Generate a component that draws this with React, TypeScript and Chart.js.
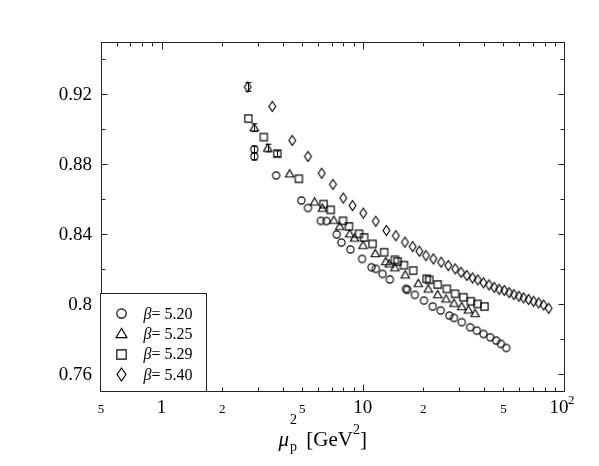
import React, { useEffect, useRef } from "react";
import { Chart, registerables } from "chart.js";
Chart.register(...registerables);

// beta = 5.20 (circles)
const x520 = [2.89, 2.89, 3.71, 4.95, 5.34, 6.19, 6.59, 7.42, 7.83, 8.68, 9.92, 11.05, 11.61, 12.54, 13.63, 16.39, 16.63, 18.16, 20.14, 22.26, 24.4, 26.93, 28.42, 31.05, 34.16, 36.89, 39.79, 42.97, 46.03, 48.58, 51.63];
const y520 = [0.8884, 0.8844, 0.8735, 0.8592, 0.8549, 0.8475, 0.8474, 0.8397, 0.8351, 0.8311, 0.8257, 0.8209, 0.82, 0.8171, 0.8139, 0.8085, 0.808, 0.8051, 0.8018, 0.7984, 0.7961, 0.7932, 0.7919, 0.7894, 0.7865, 0.7846, 0.7827, 0.7808, 0.7789, 0.777, 0.7747];
const e520 = [0.002, 0.002];
// beta = 5.25 (triangles)
const x525 = [2.89, 3.37, 4.33, 5.76, 6.3, 7.18, 7.68, 8.61, 9.09, 10.03, 11.54, 13.02, 13.53, 14.44, 16.25, 18.87, 21.16, 23.57, 25.93, 28.42, 31.05, 33.5, 36.16];
const y525 = [0.9009, 0.8892, 0.8745, 0.8584, 0.8548, 0.8479, 0.8444, 0.8401, 0.8377, 0.8335, 0.8288, 0.8242, 0.8229, 0.8207, 0.8166, 0.8117, 0.8085, 0.8053, 0.8028, 0.8003, 0.7984, 0.7965, 0.7945];
const e525 = [0.0022, 0.0022];
// beta = 5.29 (squares)
const x529 = [2.7, 3.22, 3.76, 4.81, 6.38, 6.93, 7.97, 8.54, 9.58, 10.15, 11.18, 12.77, 14.44, 14.89, 16.01, 17.81, 20.77, 21.4, 23.57, 26.14, 28.75, 31.62, 34.43, 37.14, 40.24];
const y529 = [0.9061, 0.8955, 0.886, 0.8716, 0.8571, 0.8538, 0.8475, 0.8443, 0.8401, 0.838, 0.8343, 0.8295, 0.8252, 0.8242, 0.8221, 0.819, 0.8143, 0.8137, 0.811, 0.8085, 0.8057, 0.8037, 0.8014, 0.7999, 0.7984];
const e529 = [0, 0, 0.0016];
// beta = 5.40 (diamonds)
const x540 = [2.68, 3.55, 4.46, 5.34, 6.25, 7.11, 8.0, 8.89, 10.06, 11.6, 13.1, 14.6, 16.2, 17.7, 19.1, 20.6, 22.4, 24.5, 26.6, 28.8, 30.8, 32.9, 35.1, 37.3, 39.8, 42.4, 45.0, 47.6, 50.5, 53.4, 56.4, 59.7, 63.0, 66.7, 70.6, 74.8, 79.2, 83.9];
const y540 = [0.9242, 0.9131, 0.8936, 0.8844, 0.8748, 0.8684, 0.8606, 0.8563, 0.8519, 0.8473, 0.842, 0.839, 0.8353, 0.8328, 0.8301, 0.8276, 0.8257, 0.8238, 0.8219, 0.82, 0.818, 0.8162, 0.8148, 0.8137, 0.812, 0.8108, 0.8094, 0.8083, 0.8076, 0.8064, 0.8053, 0.8043, 0.8034, 0.8024, 0.8014, 0.8005, 0.7993, 0.7974];
const e540 = [0.0025];

const legendLabels = ["5.20", "5.25", "5.29", "5.40"];
const shapes = ["circle", "triangle", "square", "diamond"];
const yTickVals = [0.76, 0.8, 0.84, 0.88, 0.92];
const xTickVals = [0.5, 1, 2, 5, 10, 20, 50, 100];
const xTickText = ["5", "1", "2", "5", "10", "2", "5", "10"];

const SERIF = "'Liberation Serif', 'Times New Roman', serif";

function makeMarker(shape: string, s: number): HTMLCanvasElement {
  const size = Math.ceil(12 * s) + 3;
  const c = document.createElement("canvas");
  c.width = size;
  c.height = size;
  const g = c.getContext("2d")!;
  const m = size / 2;
  g.strokeStyle = "#000";
  g.lineWidth = 1.15;
  g.beginPath();
  if (shape === "circle") {
    g.arc(m, m, 3.6 * s, 0, Math.PI * 2);
  } else if (shape === "triangle") {
    g.moveTo(m, m - 4 * s);
    g.lineTo(m + 4.2 * s, m + 3.2 * s);
    g.lineTo(m - 4.2 * s, m + 3.2 * s);
    g.closePath();
  } else if (shape === "square") {
    g.rect(m - 3.6 * s, m - 3.6 * s, 7.2 * s, 7.2 * s);
  } else {
    g.moveTo(m, m - 5 * s);
    g.lineTo(m + 3.4 * s, m);
    g.lineTo(m, m + 5 * s);
    g.lineTo(m - 3.4 * s, m);
    g.closePath();
  }
  g.stroke();
  return c;
}

export default function App() {
  const ref = useRef<HTMLCanvasElement>(null);
  useEffect(() => {
    const markers = shapes.map((s) => makeMarker(s, 1));
    const bigMarkers = shapes.map((s) => makeMarker(s, 1.3));
    const xs = [x520, x525, x529, x540];
    const ys = [y520, y525, y529, y540];
    const es = [e520, e525, e529, e540];

    const decor = {
      id: "decor",
      afterDatasetsDraw(chart: any) {
        const { ctx, scales } = chart;
        const x = scales.x, y = scales.y;
        ctx.save();
        ctx.strokeStyle = "#000";
        ctx.lineWidth = 1;
        es.forEach((arr, di) => {
          arr.forEach((e, i) => {
            if (!e) return;
            const px = Math.round(x.getPixelForValue(xs[di][i])) + 0.5;
            const y1 = y.getPixelForValue(ys[di][i] + e);
            const y2 = y.getPixelForValue(ys[di][i] - e);
            ctx.beginPath();
            ctx.moveTo(px, y1); ctx.lineTo(px, y2);
            ctx.moveTo(px - 3, y1); ctx.lineTo(px + 3, y1);
            ctx.moveTo(px - 3, y2); ctx.lineTo(px + 3, y2);
            ctx.stroke();
          });
        });
        ctx.restore();
      },
      afterDraw(chart: any) {
        const { ctx, chartArea: a, scales } = chart;
        const x = scales.x, y = scales.y;
        const L = Math.round(a.left) + 0.5, R = Math.round(a.right) + 0.5;
        const T = Math.round(a.top) + 0.5, B = Math.round(a.bottom) + 0.5;
        ctx.save();
        ctx.strokeStyle = "#222";
        ctx.lineWidth = 1;
        ctx.strokeRect(L, T, R - L, B - T);
        ctx.beginPath();
        for (let k = -1; k <= 2; k++) {
          for (let m = 1; m <= 9; m++) {
            const v = m * Math.pow(10, k);
            if (v < 0.5 || v > 100) continue;
            const px = Math.round(x.getPixelForValue(v)) + 0.5;
            const len = m === 1 ? 7 : 4;
            ctx.moveTo(px, B); ctx.lineTo(px, B - len);
            ctx.moveTo(px, T); ctx.lineTo(px, T + len);
          }
        }
        for (let i = 0; i <= 9; i++) {
          const v = 0.76 + i * 0.02;
          const py = Math.round(y.getPixelForValue(v)) + 0.5;
          const len = i % 2 === 0 ? 6 : 4;
          ctx.moveTo(L, py); ctx.lineTo(L + len, py);
          ctx.moveTo(R, py); ctx.lineTo(R - len, py);
        }
        ctx.stroke();

        // y labels
        ctx.fillStyle = "#000";
        ctx.font = `19px ${SERIF}`;
        ctx.textAlign = "right";
        ctx.textBaseline = "middle";
        yTickVals.forEach((v) => {
          ctx.fillText(String(v), a.left - 9, y.getPixelForValue(v) + 1);
        });
        // x labels
        ctx.textAlign = "center";
        ctx.textBaseline = "alphabetic";
        const base = a.bottom + 22;
        xTickVals.forEach((v, i) => {
          const px = x.getPixelForValue(v);
          const big = v === 1 || v === 10 || v === 100;
          ctx.font = `${big ? 19 : 13}px ${SERIF}`;
          if (v === 100) {
            ctx.fillText(xTickText[i], px - 5, base);
            ctx.font = `13px ${SERIF}`;
            ctx.textAlign = "left";
            ctx.fillText("2", px + 4, base - 9);
            ctx.textAlign = "center";
          } else {
            ctx.fillText(xTickText[i], px, base);
          }
        });

        // axis title  mu_p^2 [GeV^2]
        ctx.textAlign = "left";
        const tb = a.bottom + 55;
        let tx = (a.left + a.right) / 2 - 54;
        ctx.font = `italic 21px ${SERIF}`;
        ctx.fillText("\u03bc", tx, tb);
        tx += ctx.measureText("\u03bc").width + 1;
        ctx.font = `14px ${SERIF}`;
        ctx.fillText("2", tx, tb - 22);
        ctx.fillText("p", tx, tb + 5);
        tx += ctx.measureText("p").width + 4;
        ctx.font = `21px ${SERIF}`;
        tx += ctx.measureText(" ").width;
        ctx.fillText("[GeV", tx, tb);
        tx += ctx.measureText("[GeV").width;
        ctx.font = `14px ${SERIF}`;
        ctx.fillText("2", tx, tb - 12);
        tx += ctx.measureText("2").width;
        ctx.font = `21px ${SERIF}`;
        ctx.fillText("]", tx, tb);

        // legend box
        const bx = L - 1, bw = 106, bh = 98, by = B - bh;
        ctx.fillStyle = "#fff";
        ctx.fillRect(bx, by, bw, bh);
        ctx.strokeStyle = "#222";
        ctx.strokeRect(bx, by, bw, bh);
        legendLabels.forEach((lab, i) => {
          const cy = by + 20 + i * 20.3;
          const mk = bigMarkers[i];
          ctx.drawImage(mk, Math.round(bx + 21 - mk.width / 2), Math.round(cy - mk.height / 2));
          ctx.fillStyle = "#000";
          ctx.textBaseline = "middle";
          ctx.font = `italic 16px ${SERIF}`;
          ctx.fillText("\u03b2", bx + 43, cy + 1);
          const bw2 = ctx.measureText("\u03b2").width;
          ctx.font = `16px ${SERIF}`;
          ctx.fillText("= " + lab, bx + 43 + bw2, cy + 1);
        });
        ctx.restore();
      },
    };

    const chart = new Chart(ref.current!, {
      type: "scatter",
      data: {
        datasets: legendLabels.map((lab, i) => ({
          label: "\u03b2= " + lab,
          data: xs[i].map((xv, j) => ({ x: xv, y: ys[i][j] })),
          pointStyle: markers[i] as any,
          pointRadius: 4,
          showLine: false,
          borderColor: "#000",
          backgroundColor: "rgba(0,0,0,0)",
        })),
      },
      options: {
        animation: false,
        responsive: true,
        maintainAspectRatio: false,
        layout: { padding: { left: 93, top: 34, right: 27, bottom: 67 } },
        plugins: { legend: { display: false }, tooltip: { enabled: false } },
        scales: {
          x: { type: "logarithmic", min: 0.5, max: 100, display: false },
          y: { type: "linear", min: 0.75, max: 0.95, display: false },
        },
      },
      plugins: [decor],
    });
    return () => chart.destroy();
  }, []);

  return (
    <div style={{ width: 583, height: 450, position: "relative" }}>
      <canvas ref={ref} />
    </div>
  );
}
